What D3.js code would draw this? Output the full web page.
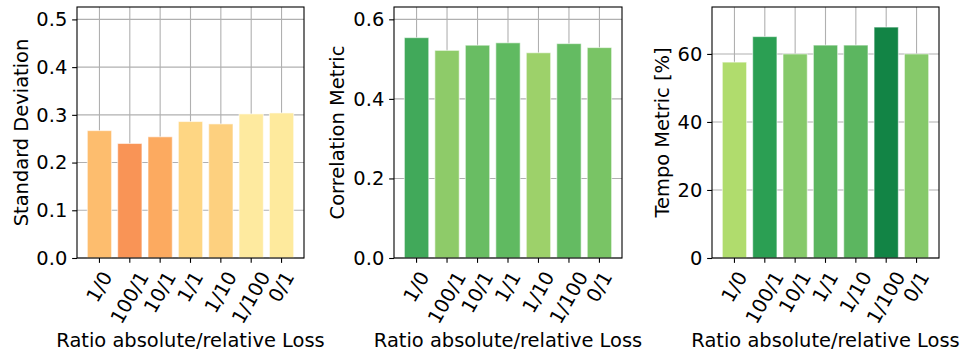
<!DOCTYPE html>
<html>
<head>
<meta charset="utf-8">
<script src="https://cdn.jsdelivr.net/npm/d3@7"></script>
<style>
  html, body { margin: 0; padding: 0; background: #fff; }
  svg { display: block; font-family: "DejaVu Sans", sans-serif; }
</style>
</head>
<body>
<svg id="fig" width="968" height="356"></svg>
<script>
// Loss-ratio settings shared by all three panels
const ratios = ["1/0", "100/1", "10/1", "1/1", "1/10", "1/100", "0/1"];

// Metric values per ratio
const stdDev      = [0.267, 0.240, 0.254, 0.286, 0.281, 0.302, 0.304];
const correlation = [0.554, 0.522, 0.535, 0.541, 0.516, 0.539, 0.529];
const tempo       = [57.6, 65.1, 60.0, 62.6, 62.6, 67.9, 60.0];

// Y tick values per panel
const stdTicks   = [0, 0.1, 0.2, 0.3, 0.4, 0.5];
const corrTicks  = [0, 0.2, 0.4, 0.6];
const tempoTicks = [0, 20, 40, 60];

// Bar fill colours (RdYlGn shades)
const stdColors   = ["#fdbd6e", "#f99456", "#fcaa60", "#fed683", "#fdd07f", "#feea9f", "#feea9d"];
const corrColors  = ["#41a95a", "#8ecb69", "#69bd63", "#60ba61", "#9dd16a", "#64bb62", "#79c465"];
const tempoColors = ["#b0dc6d", "#2b9f53", "#86c96a", "#5cb660", "#5cb660", "#128445", "#86c96a"];

const FONT = 19.44;
const TICK = 4.86, PAD = 4.86;
const svg = d3.select("#fig");

const panels = [
  { left: 77,  right: 304, values: stdDev,      ticks: stdTicks,   ymax: 0.526, fmt: d3.format(".1f"), colors: stdColors,   ylabel: "Standard Deviation", ylabelX: 21 },
  { left: 394, right: 622, values: correlation, ticks: corrTicks,  ymax: 0.631, fmt: d3.format(".1f"), colors: corrColors,  ylabel: "Correlation Metric", ylabelX: 337 },
  { left: 712, right: 939, values: tempo,       ticks: tempoTicks, ymax: 73.8,  fmt: d3.format("d"),   colors: tempoColors, ylabel: "Tempo Metric [%]",   ylabelX: 662 }
];
const plotTop = 7, plotBottom = 258;

panels.forEach(p => {
  const x = d3.scaleBand().domain(ratios).range([p.left, p.right])
    .paddingInner(0.2).paddingOuter(0.34);
  const y = d3.scaleLinear().domain([0, p.ymax]).range([plotBottom, plotTop]);
  const g = svg.append("g");

  // grid lines
  g.append("g").selectAll("line").data(p.ticks).join("line")
    .attr("x1", p.left).attr("x2", p.right)
    .attr("y1", d => y(d)).attr("y2", d => y(d))
    .attr("stroke", "#b0b0b0").attr("stroke-width", 1.1);
  g.append("g").selectAll("line").data(ratios).join("line")
    .attr("x1", d => x(d) + x.bandwidth() / 2).attr("x2", d => x(d) + x.bandwidth() / 2)
    .attr("y1", plotTop).attr("y2", plotBottom)
    .attr("stroke", "#b0b0b0").attr("stroke-width", 1.1);

  // bars
  g.append("g").selectAll("rect").data(p.values).join("rect")
    .attr("x", (d, i) => x(ratios[i]))
    .attr("width", x.bandwidth())
    .attr("y", d => y(d))
    .attr("height", d => y(0) - y(d))
    .attr("fill", (d, i) => p.colors[i])
    .attr("stroke", "#ffffff").attr("stroke-opacity", 0.55).attr("stroke-width", 1.1);

  // y axis
  const ya = g.append("g").attr("transform", `translate(${p.left},0)`)
    .call(d3.axisLeft(y).tickValues(p.ticks).tickFormat(p.fmt).tickSize(TICK).tickPadding(PAD));
  ya.select(".domain").remove();
  ya.selectAll(".tick line").attr("stroke", "#000").attr("stroke-width", 1.1);
  ya.selectAll(".tick text").attr("font-size", FONT).attr("fill", "#000")
    .attr("font-family", "DejaVu Sans");

  // x axis ticks
  const xa = g.append("g").attr("transform", `translate(0,${plotBottom})`)
    .call(d3.axisBottom(x).tickSize(TICK).tickFormat(""));
  xa.select(".domain").remove();
  xa.selectAll(".tick line").attr("stroke", "#000").attr("stroke-width", 1.1);

  // rotated category labels, centred under each tick
  const ang = 60 * Math.PI / 180;
  const labels = g.append("g").selectAll("text").data(ratios).join("text")
    .attr("font-size", FONT).attr("fill", "#000")
    .attr("text-anchor", "middle").attr("dominant-baseline", "central")
    .text(d => d);
  labels.each(function (d) {
    const L = this.getComputedTextLength();
    const h = FONT * 1.16;
    const bh = L * Math.sin(ang) + h * Math.cos(ang);
    const cx = x(d) + x.bandwidth() / 2;
    const cy = plotBottom + TICK + PAD + bh / 2;
    d3.select(this).attr("transform", `translate(${cx},${cy}) rotate(-60)`);
  });

  // frame
  g.append("rect").attr("x", p.left).attr("y", plotTop)
    .attr("width", p.right - p.left).attr("height", plotBottom - plotTop)
    .attr("fill", "none").attr("stroke", "#000").attr("stroke-width", 1.1);

  // axis titles
  g.append("text").attr("x", (p.left + p.right) / 2).attr("y", 347)
    .attr("text-anchor", "middle").attr("font-size", FONT).attr("fill", "#000")
    .text("Ratio absolute/relative Loss");
  g.append("text")
    .attr("transform", `translate(${p.ylabelX},${(plotTop + plotBottom) / 2}) rotate(-90)`)
    .attr("text-anchor", "middle").attr("dominant-baseline", "central")
    .attr("font-size", FONT).attr("fill", "#000")
    .text(p.ylabel);
});
</script>
</body>
</html>
